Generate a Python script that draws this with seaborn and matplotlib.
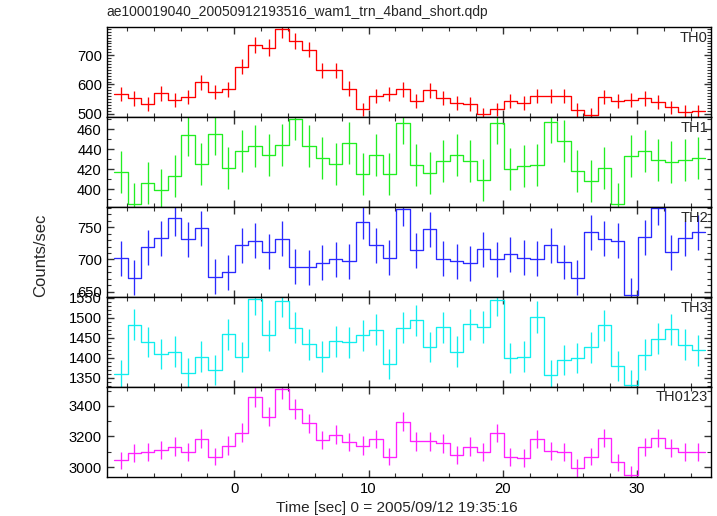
import numpy as np
import pandas as pd
import matplotlib
matplotlib.use("Agg")
import matplotlib.pyplot as plt
import seaborn as sns
from matplotlib.ticker import MultipleLocator

# bin centres: 1 s bins, first centre at -8.45 s
t_start = -8.95
bin_width = 1.0

th0 = [567, 552, 532, 570, 546, 556, 607, 574, 583, 661, 734, 726, 788, 748, 719,
       648, 648, 586, 515, 561, 567, 583, 544, 580, 553, 537, 532, 498, 515, 545,
       536, 559, 560, 562, 512, 496, 558, 544, 546, 552, 539, 522, 507, 508]
th0_err = [25, 24, 24, 25, 24, 24, 25, 25, 25, 26, 28, 28, 29, 28, 27,
           26, 26, 25, 23, 24, 25, 25, 24, 25, 24, 24, 24, 23, 23, 24,
           24, 24, 24, 24, 23, 23, 24, 24, 24, 24, 24, 23, 23, 23]

th1 = [417, 385, 406, 399, 413, 454, 425, 455, 421, 438, 443, 434, 444, 470, 443,
       431, 425, 446, 415, 434, 415, 466, 424, 416, 428, 434, 428, 409, 466, 420,
       423, 424, 467, 448, 418, 408, 421, 385, 433, 438, 429, 427, 429, 431]
th1_err = [21] * 44

th2 = [702, 672, 719, 733, 764, 731, 748, 673, 680, 722, 729, 712, 732, 689, 688,
       695, 700, 697, 758, 722, 703, 778, 714, 747, 701, 697, 694, 716, 700, 708,
       703, 701, 722, 696, 672, 742, 732, 729, 645, 734, 780, 711, 733, 742]
th2_err = [27] * 44

th3 = [1359, 1483, 1440, 1410, 1416, 1363, 1403, 1370, 1459, 1402, 1547, 1456, 1542,
       1475, 1434, 1403, 1441, 1439, 1456, 1470, 1385, 1475, 1494, 1427, 1476, 1416,
       1484, 1477, 1544, 1400, 1403, 1502, 1358, 1395, 1400, 1426, 1481, 1380, 1333,
       1408, 1448, 1471, 1433, 1419]
th3_err = [36, 39, 38, 38, 38, 36, 38, 37, 38, 38, 40, 38, 40,
           39, 38, 38, 38, 38, 38, 39, 37, 39, 39, 38, 39, 38,
           39, 39, 40, 38, 38, 39, 36, 38, 38, 38, 39, 37, 36,
           38, 38, 39, 38, 38]

th0123 = [3043, 3092, 3097, 3110, 3134, 3101, 3186, 3069, 3140, 3225, 3458, 3330, 3510,
          3380, 3285, 3175, 3212, 3166, 3140, 3183, 3069, 3296, 3168, 3168, 3155, 3082,
          3134, 3097, 3222, 3066, 3058, 3183, 3105, 3101, 2995, 3069, 3188, 3030, 2950,
          3129, 3190, 3125, 3097, 3097]
th0123_err = [58, 59, 59, 59, 60, 59, 60, 58, 60, 61, 63, 62, 64,
              63, 62, 60, 61, 60, 60, 60, 58, 62, 60, 60, 60, 59,
              60, 59, 61, 58, 58, 60, 59, 59, 57, 58, 60, 58, 57,
              59, 60, 59, 59, 59]

bands = ["TH0", "TH1", "TH2", "TH3", "TH0123"]
series = [th0, th1, th2, th3, th0123]
errors = [th0_err, th1_err, th2_err, th3_err, th0123_err]
colors = ["#ff0000", "#22ee22", "#2a2aff", "#11eeee", "#ff22ff"]
ylims = [(488, 795), (382, 472), (642, 781), (1328, 1552), (2937, 3525)]
major_steps = [100, 20, 50, 50, 200]
minor_steps = [10, 10, 10, 10, 100]

sns.set_style("ticks")
plt.rcParams["font.family"] = ["Liberation Sans", "DejaVu Sans"]
plt.rcParams["font.size"] = 10

fig, axes = plt.subplots(5, 1, figsize=(7.17, 5.16), dpi=100, sharex=True)
fig.subplots_adjust(left=0.1488, right=0.9916, top=0.947, bottom=0.0762, hspace=0)

for ax, name, vals, err, col, ylim, mj, mn in zip(
        axes, bands, series, errors, colors, ylims, major_steps, minor_steps):
    n = len(vals)
    edges = t_start + bin_width * np.arange(n + 1)
    centres = edges[:-1] + bin_width / 2
    df = pd.DataFrame({"time": edges, "rate": list(vals) + [vals[-1]]})
    sns.lineplot(data=df, x="time", y="rate", drawstyle="steps-post",
                 color=col, lw=0.95, ax=ax, estimator=None)
    ax.errorbar(centres, vals, yerr=err, fmt="none", ecolor=col,
                elinewidth=0.95, capsize=0)
    ax.set_ylim(*ylim)
    ax.set_xlim(-9.5, 35.5)
    ax.yaxis.set_major_locator(MultipleLocator(mj))
    ax.yaxis.set_minor_locator(MultipleLocator(mn))
    ax.xaxis.set_major_locator(MultipleLocator(10))
    ax.xaxis.set_minor_locator(MultipleLocator(2))
    ax.tick_params(which="both", direction="in", top=True, right=True,
                   colors="#333333", labelcolor="black", labelsize=10.6)
    ax.tick_params(which="major", length=5, width=1)
    ax.tick_params(which="minor", length=3, width=0.8)
    for sp in ax.spines.values():
        sp.set_color("black")
        sp.set_linewidth(1.0)
    ax.set_xlabel("")
    ax.set_ylabel("")
    ax.text(0.995, 0.96, name, transform=ax.transAxes, ha="right", va="top",
            fontsize=10.5)

fig.text(0.554, 0.016, "Time [sec] 0 = 2005/09/12 19:35:16", ha="center",
         va="center", fontsize=11.1)
fig.text(0.057, 0.505, "Counts/sec", rotation=90, ha="center", va="center",
         fontsize=12)
fig.text(0.1488, 0.977, "ae100019040_20050912193516_wam1_trn_4band_short.qdp",
         ha="left", va="center", fontsize=10)

fig.savefig("out.png", dpi=100)
